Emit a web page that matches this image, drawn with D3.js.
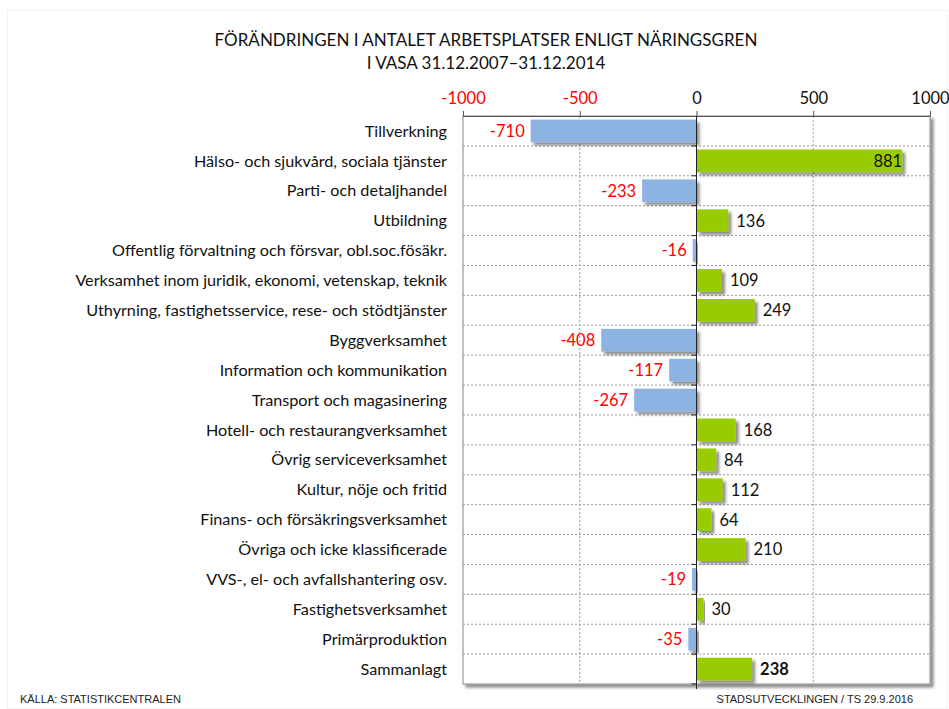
<!DOCTYPE html>
<html>
<head>
<meta charset="utf-8">
<script src="https://cdn.jsdelivr.net/npm/d3@7"></script>
<style>
  body { margin: 0; background: #fff; }
  svg { display: block; }
</style>
</head>
<body>
<svg id="chart"></svg>
<script>
// data
const categories = [
  "Tillverkning",
  "Hälso- och sjukvård, sociala tjänster",
  "Parti- och detaljhandel",
  "Utbildning",
  "Offentlig förvaltning och försvar, obl.soc.fösäkr.",
  "Verksamhet inom juridik, ekonomi, vetenskap, teknik",
  "Uthyrning, fastighetsservice, rese- och stödtjänster",
  "Byggverksamhet",
  "Information och kommunikation",
  "Transport och magasinering",
  "Hotell- och restaurangverksamhet",
  "Övrig serviceverksamhet",
  "Kultur, nöje och fritid",
  "Finans- och försäkringsverksamhet",
  "Övriga och icke klassificerade",
  "VVS-, el- och avfallshantering osv.",
  "Fastighetsverksamhet",
  "Primärproduktion",
  "Sammanlagt"
];
const changes = [-710, 881, -233, 136, -16, 109, 249, -408, -117, -267, 168, 84, 112, 64, 210, -19, 30, -35, 238];
const tickValues = [-1000, -500, 0, 500, 1000];
const titleLines = [
  "FÖRÄNDRINGEN I ANTALET ARBETSPLATSER ENLIGT NÄRINGSGREN",
  "I VASA 31.12.2007–31.12.2014"
];

const width = 949, height = 709;
const plotLeft = 463, plotRight = 930, plotTop = 116, plotBottom = 684;
const font = 'Lato, "Open Sans", sans-serif';
const svg = d3.select('#chart').attr('width', width).attr('height', height);

const defs = svg.append('defs');
const shadow = defs.append('filter').attr('id', 'shadow')
  .attr('x', '-10%').attr('y', '-10%').attr('width', '130%').attr('height', '140%');
shadow.append('feDropShadow').attr('dx', 3).attr('dy', 3).attr('stdDeviation', 1.6)
  .attr('flood-color', '#000').attr('flood-opacity', 0.45);

// faint outer frame
svg.append('rect').attr('x', 7.5).attr('y', 10.5).attr('width', 940).attr('height', 698)
  .attr('fill', 'none').attr('stroke', '#f2f2f2');

const x = d3.scaleLinear().domain([-1000, 1000]).range([plotLeft, plotRight]);
const y = d3.scaleBand().domain(categories).range([plotTop, plotBottom]).paddingInner(0.24).paddingOuter(0.12);

// title
svg.append('g').selectAll('text').data(titleLines).join('text')
  .attr('x', 486).attr('y', (d, i) => 46 + i * 23)
  .attr('text-anchor', 'middle')
  .style('font-family', font)
  .style('font-size', '17px').attr('fill', '#111')
  .text(d => d);

// plot frame with shadow
svg.append('rect').attr('x', plotLeft).attr('y', plotTop)
  .attr('width', plotRight - plotLeft).attr('height', plotBottom - plotTop)
  .attr('fill', '#fff').attr('stroke', '#9a9a9a').attr('stroke-width', 1.2)
  .attr('filter', 'url(#shadow)');

// gridlines
const grid = svg.append('g');
grid.selectAll('line.v').data([-500, 500]).join('line').attr('class', 'v')
  .attr('x1', d => x(d)).attr('x2', d => x(d)).attr('y1', plotTop).attr('y2', plotBottom)
  .attr('stroke', '#9a9a9a').attr('stroke-dasharray', '2,2');
const boundaries = d3.range(1, categories.length)
  .map(i => plotTop + i * (plotBottom - plotTop) / categories.length);
grid.selectAll('line.h').data(boundaries).join('line').attr('class', 'h')
  .attr('x1', plotLeft).attr('x2', plotRight).attr('y1', d => d).attr('y2', d => d)
  .attr('stroke', '#9a9a9a').attr('stroke-dasharray', '2,2');

// top axis
const axis = svg.append('g').attr('transform', `translate(0,${plotTop})`)
  .call(d3.axisTop(x).tickValues(tickValues).tickFormat(d => String(d)).tickSize(5).tickPadding(7));
axis.select('.domain').attr('stroke', '#555');
axis.selectAll('.tick line').attr('stroke', '#555');
axis.selectAll('.tick text')
  .style('font-family', font).style('font-size', '16.5px')
  .attr('fill', d => d < 0 ? '#ff0000' : '#111');

// bars
svg.append('g').selectAll('rect').data(changes).join('rect')
  .attr('x', d => x(Math.min(0, d)))
  .attr('y', (d, i) => y(categories[i]))
  .attr('width', d => Math.abs(x(d) - x(0)))
  .attr('height', y.bandwidth())
  .attr('fill', d => d < 0 ? '#8db3e2' : '#99cc00')
  .attr('filter', 'url(#shadow)');

// zero axis with category ticks
svg.append('line').attr('x1', x(0)).attr('x2', x(0)).attr('y1', plotTop).attr('y2', plotBottom + 5)
  .attr('stroke', '#222').attr('stroke-width', 1);
svg.append('g').selectAll('line').data(boundaries.concat([plotBottom])).join('line')
  .attr('x1', x(0) - 5).attr('x2', x(0)).attr('y1', d => d).attr('y2', d => d)
  .attr('stroke', '#222');

// category labels
svg.append('g').selectAll('text').data(categories).join('text')
  .attr('x', 447).attr('y', d => y(d) + y.bandwidth() / 2)
  .attr('dy', '0.35em').attr('text-anchor', 'end')
  .style('font-family', font).style('font-size', '16.2px')
  .attr('fill', '#111').text(d => d);

// value labels
svg.append('g').selectAll('text').data(changes).join('text')
  .attr('x', d => d < 0 ? x(d) - 6 : (d > 800 ? x(d) : x(d) + 8))
  .attr('y', (d, i) => y(categories[i]) + y.bandwidth() / 2)
  .attr('dy', '0.36em')
  .attr('text-anchor', d => d < 0 || d > 800 ? 'end' : 'start')
  .style('font-family', font).style('font-size', '16.5px')
  .style('font-weight', (d, i) => i === categories.length - 1 ? 'bold' : 'normal')
  .attr('fill', d => d < 0 ? '#ff0000' : '#111')
  .text(d => d);

// footer
svg.append('text').attr('x', 20).attr('y', 703)
  .style('font-family', '"Liberation Sans", Arial, sans-serif').style('font-size', '11px')
  .attr('fill', '#222').text('KÄLLA: STATISTIKCENTRALEN');
svg.append('text').attr('x', 913).attr('y', 703).attr('text-anchor', 'end')
  .style('font-family', '"Liberation Sans", Arial, sans-serif').style('font-size', '11px')
  .attr('fill', '#222').text('STADSUTVECKLINGEN / TS 29.9.2016');
</script>
</body>
</html>
